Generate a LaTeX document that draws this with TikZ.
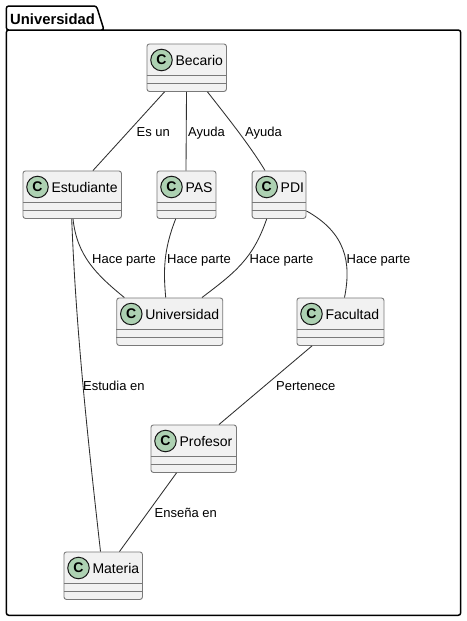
\documentclass[tikz,border=0pt]{standalone}
\usepackage{fontspec}
\setmainfont{Liberation Sans}
\usetikzlibrary{calc}
\definecolor{umlfill}{HTML}{F1F1F1}
\definecolor{umlline}{HTML}{181818}
\definecolor{spotfill}{HTML}{ADD1B2}
\tikzset{
  classbox/.style={draw=umlline!58!white,line width=0.9pt,fill=umlfill,rounded corners=2.5pt,anchor=north west,inner sep=0pt,minimum height=47.5pt},
  spot/.style={circle,draw=umlline,line width=1pt,fill=spotfill,minimum size=21.5pt,inner sep=0pt,font=\fontsize{14}{14}\selectfont\bfseries},
  classname/.style={anchor=base west,inner sep=0pt,font=\fontsize{14}{14}\selectfont,text=black},
  compart/.style={draw=umlline!58!white,line width=0.9pt},
  edgeline/.style={draw=umlline!90!white,line width=0.85pt},
  edgelabel/.style={anchor=base west,inner sep=0pt,font=\fontsize{13}{13}\selectfont,text=black},
  packline/.style={draw=black,line width=1.5pt,rounded corners=2.5pt},
  packtitle/.style={anchor=base west,inner sep=0pt,font=\fontsize{14.8}{15}\selectfont\bfseries,text=black}
}
% #1 name, #2 left, #3 top, #4 width, #5 text
\newcommand{\umlclass}[5]{%
  \node[classbox,minimum width=#4pt] (#1) at (#2,#3) {};
  \node[spot] (#1spot) at ($(#1.north west)+(15,16.5)$) {C};
  \node[classname] (#1name) at ($(#1.north west)+(28.8,21.5)$) {#5};
  \draw[compart] ($(#1.north west)+(0,32)$) -- ($(#1.north east)+(0,32)$);
  \draw[compart] ($(#1.north west)+(0,40)$) -- ($(#1.north east)+(0,40)$);
}
\begin{document}
\begin{tikzpicture}[x=1pt,y=-1pt]
\useasboundingbox (0,0) rectangle (466,621);
\fill[white] (0,0) rectangle (466,621);
% package
\draw[packline] (6.3,30) -- (6.3,6) -- (96.5,6) -- (104,30) -- (6.3,30) -- (6.3,615.3) -- (460.7,615.3) -- (460.7,30) -- cycle;
\node[packtitle] (pack) at (10,24) {Universidad};
% classes
\umlclass{bec}{146.5}{43.5}{79.5}{Becario}
\umlclass{est}{22.5}{170.5}{98.5}{Estudiante}
\umlclass{pas}{156.5}{170.5}{59}{PAS}
\umlclass{pdi}{251.7}{170.5}{53.8}{PDI}
\umlclass{uni}{116.3}{297.5}{106}{Universidad}
\umlclass{fac}{296.5}{297.5}{87}{Facultad}
\umlclass{pro}{150.5}{424.5}{85.5}{Profesor}
\umlclass{mat}{63.5}{551.5}{78.5}{Materia}
% connectors
\draw[edgeline] ([xshift=18pt]bec.south west) -- ([xshift=70.5pt]est.north west);
\draw[edgeline] ([xshift=40pt]bec.south west) -- ([xshift=29.5pt]pas.north west);
\draw[edgeline] ([xshift=61pt]bec.south west) .. controls +(18,23) and +(-15,-25) .. ([xshift=13.3pt]pdi.north west);
\draw[edgeline] ([xshift=50.5pt]est.south west) .. controls +(4,37) and +(-28,-23) .. ([xshift=8pt]uni.north west);
\draw[edgeline] ([xshift=49.2pt]est.south west) .. controls +(4.3,112) and +(-12.5,-111) .. ([xshift=37pt]mat.north west);
\draw[edgeline] ([xshift=19.2pt]pas.south west) .. controls +(-12.7,32) and +(-2.2,-25) .. ([xshift=49.4pt]uni.north west);
\draw[edgeline] ([xshift=15pt]pdi.south west) .. controls +(-13.7,40) and +(33,-25) .. ([xshift=85.7pt]uni.north west);
\draw[edgeline] ([yshift=8pt]pdi.south east) .. controls +(39.5,22) and +(7,-35) .. ([xshift=48pt]fac.north west);
\draw[edgeline] ([xshift=15.5pt]fac.south west) -- ([xshift=68.5pt]pro.north west);
\draw[edgeline] ([xshift=26pt]pro.south west) -- ([xshift=56pt]mat.north west);
% labels
\node[edgelabel] (l1) at (136.5,136) {Es un};
\node[edgelabel] (l2) at (188,136) {Ayuda};
\node[edgelabel] (l3) at (245,136) {Ayuda};
\node[edgelabel] (l4) at (92,263) {Hace parte};
\node[edgelabel] (l5) at (167,263) {Hace parte};
\node[edgelabel] (l6) at (249.5,263) {Hace parte};
\node[edgelabel] (l7) at (346.5,263) {Hace parte};
\node[edgelabel] (l8) at (83,390) {Estudia en};
\node[edgelabel] (l9) at (276,390) {Pertenece};
\node[edgelabel] (l10) at (154.5,517) {Enseña en};
\end{tikzpicture}
\end{document}
